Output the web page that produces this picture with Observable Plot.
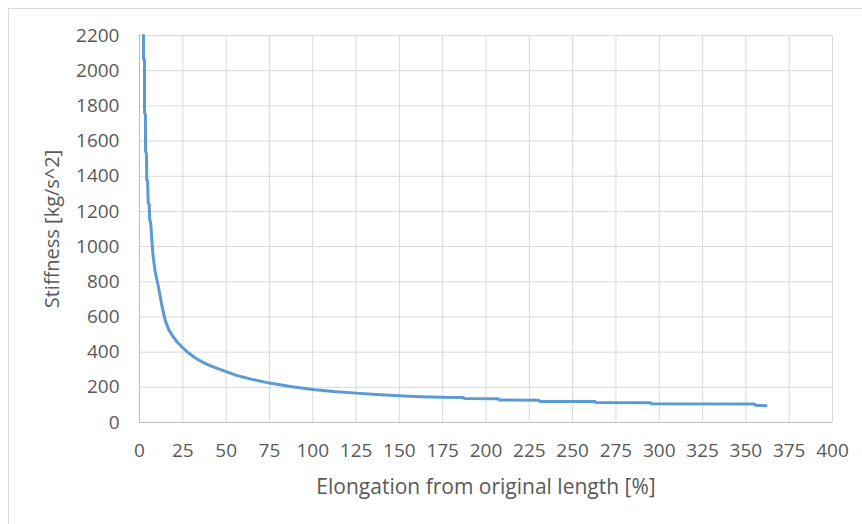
<!DOCTYPE html>
<html>
<head>
<meta charset="utf-8">
<script src="https://cdn.jsdelivr.net/npm/d3@7"></script>
<script src="https://cdn.jsdelivr.net/npm/@observablehq/plot@0.6"></script>
<style>
  html, body { margin: 0; padding: 0; background: #fff; overflow: hidden; }
  #wrap { position: relative; width: 862px; height: 524px; overflow: hidden; }
  #frame { position: absolute; left: 8px; top: 8px; width: 900px; height: 600px; border: 1px solid #d9d9d9; box-sizing: border-box; }
  #chart { position: absolute; left: 0; top: 0; }
</style>
</head>
<body>
<div id="wrap"><div id="frame"></div><div id="chart"></div></div>
<script>
// Elongation from original length [%]
const elongation = [2.3, 2.3, 2.9, 2.9, 3.4, 3.5, 4.0, 4.2, 4.7, 5.0, 5.6, 5.9, 6.4, 7.7, 9, 11, 13, 14.9, 17, 19.7, 22, 25, 28, 32, 36, 41, 48, 56, 65, 75, 88, 100, 112, 125, 137, 150, 162, 175, 187, 187.5, 207, 207.5, 230.5, 231, 263, 263.5, 295, 295.5, 355, 355.5, 361.7];
// Stiffness [kg/s^2]
const stiffness = [2200, 2070, 2060, 1760, 1750, 1540, 1530, 1380, 1370, 1250, 1240, 1150, 1140, 960, 860, 768, 660, 579, 525, 484, 455, 425, 398, 368, 345, 322, 296, 268, 245, 224, 203, 188, 176, 167, 159, 152, 147, 143, 142, 136, 135, 128, 127, 120, 119, 113, 112, 106, 105, 98, 95];
const xTicks = d3.range(0, 401, 25);
const yTicks = d3.range(0, 2201, 200);
const xTitle = "Elongation from original length [%]";
const yTitle = "Stiffness [kg/s^2]";

const data = elongation.map((e, i) => ({e, k: stiffness[i]}));
const font = "'Open Sans', 'Liberation Sans', sans-serif";

const chart = Plot.plot({
  width: 862,
  height: 524,
  marginLeft: 139,
  marginRight: 30,
  marginTop: 35,
  marginBottom: 102,
  style: {fontFamily: font, fontSize: "19px", color: "#595959", background: "transparent"},
  x: {domain: [0, 400], ticks: xTicks},
  y: {domain: [0, 2200], ticks: yTicks},
  marks: [
    Plot.gridX(xTicks, {stroke: "#d9d9d9", strokeOpacity: 1, strokeWidth: 1}),
    Plot.gridY(yTicks, {stroke: "#d9d9d9", strokeOpacity: 1, strokeWidth: 1}),
    Plot.ruleX([0], {stroke: "#bfbfbf"}),
    Plot.ruleY([0], {stroke: "#bfbfbf"}),
    Plot.axisX(xTicks, {tickSize: 0, tickPadding: 21, tickFormat: "d", label: null, fill: "#595959", fontSize: 19}),
    Plot.axisY(yTicks, {tickSize: 0, tickPadding: 20, tickFormat: "d", label: null, fill: "#595959", fontSize: 19}),
    Plot.axisX([], {tickSize: 0, label: xTitle, labelAnchor: "center", labelArrow: "none", labelOffset: 71, fill: "#595959", fontSize: 21}),
    Plot.axisY([], {tickSize: 0, label: yTitle, labelAnchor: "center", labelArrow: "none", labelOffset: 95, fill: "#595959", fontSize: 20}),
    Plot.line(data, {x: "e", y: "k", stroke: "#5b9bd5", strokeWidth: 3, strokeLinejoin: "round", strokeLinecap: "round"})
  ]
});
document.getElementById("chart").appendChild(chart);
</script>
</body>
</html>
